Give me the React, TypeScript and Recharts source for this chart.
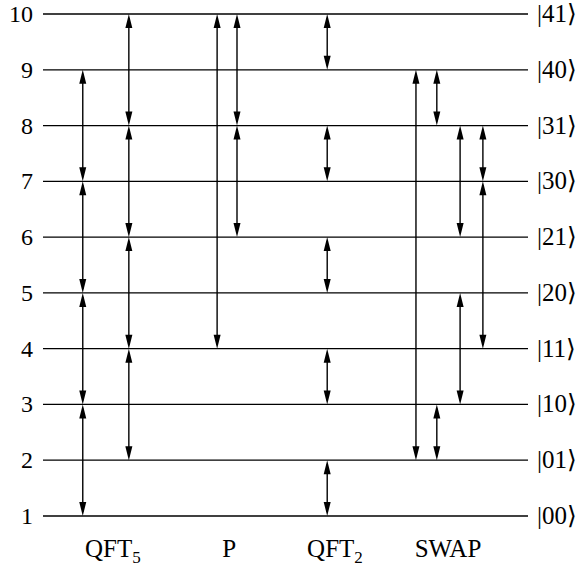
import {
  ComposedChart,
  XAxis,
  YAxis,
  CartesianGrid,
  ReferenceLine,
  Scatter,
} from "recharts";

const levels = [1, 2, 3, 4, 5, 6, 7, 8, 9, 10];
const kets = ["|00⟩", "|01⟩", "|10⟩", "|11⟩", "|20⟩", "|21⟩", "|30⟩", "|31⟩", "|40⟩", "|41⟩"];

// gate labels: name + subscript, and their position along the x axis (0..100)
const gateNames = ["QFT", "P", "QFT", "SWAP"];
const gateSubs = ["5", "", "2", ""];
const gatePos = [14.4, 38.4, 60.2, 83.5];

// transitions drawn as double-headed arrows: column x, from level, to level
const arrowX = [
  8.2, 8.2, 8.2, 8.2,
  17.7, 17.7, 17.7, 17.7,
  35.9,
  40.0, 40.0,
  58.6, 58.6, 58.6, 58.6, 58.6,
  76.9,
  81.2, 81.2,
  86.0, 86.0,
  90.7, 90.7,
];
const arrowFrom = [
  1, 3, 5, 7,
  2, 4, 6, 8,
  4,
  6, 8,
  1, 3, 5, 7, 9,
  2,
  2, 8,
  3, 6,
  4, 7,
];
const arrowTo = [
  3, 5, 7, 9,
  4, 6, 8, 10,
  10,
  8, 10,
  2, 4, 6, 8, 10,
  9,
  3, 9,
  5, 8,
  7, 8,
];

const FONT = "Liberation Serif";
const HEAD = 14;
const HALF = 3.5;

// anchor points so the axes have something to lay out
const points = arrowX.map((x, i) => ({ x, y: arrowFrom[i] }));

function ArrowShape(props: any) {
  const { x1, y1, y2 } = props;
  const top = Math.min(y1, y2);
  const bot = Math.max(y1, y2);
  const x = x1;
  return (
    <g>
      <line x1={x} y1={top + 4} x2={x} y2={bot - 4} stroke="#000" strokeWidth={1.4} />
      <path d={`M${x},${top} L${x - HALF},${top + HEAD} L${x + HALF},${top + HEAD} Z`} fill="#000" />
      <path d={`M${x},${bot} L${x - HALF},${bot - HEAD} L${x + HALF},${bot - HEAD} Z`} fill="#000" />
    </g>
  );
}

function GateTick(props: any) {
  const { x, y, payload } = props;
  const i = gatePos.indexOf(payload.value);
  return (
    <text x={x} y={y + 41} textAnchor="middle" fontFamily={FONT} fontSize={25} fill="#000">
      {gateNames[i]}
      {gateSubs[i] && (
        <tspan fontSize={17} dy={6}>
          {gateSubs[i]}
        </tspan>
      )}
    </text>
  );
}

function LevelTick(props: any) {
  const { x, y, payload } = props;
  return (
    <text x={x} y={y} dy={8} textAnchor="end" fontFamily={FONT} fontSize={24} fill="#000">
      {payload.value}
    </text>
  );
}

function KetTick(props: any) {
  const { x, y, payload } = props;
  return (
    <text x={x} y={y} dy={8} textAnchor="start" fontFamily={FONT} fontSize={25} fill="#000">
      {kets[payload.value - 1]}
    </text>
  );
}

export default function App() {
  return (
    <div style={{ position: "absolute", left: 0, top: 0, background: "#fff", fontFamily: FONT }}>
      <ComposedChart
        width={583}
        height={568}
        data={points}
        margin={{ top: 14, right: 0, left: 0, bottom: 0 }}
        style={{ fontFamily: FONT }}
      >
        <CartesianGrid
          yAxisId="l"
          vertical={false}
          stroke="#000"
          strokeWidth={1.3}
        />
        <XAxis
          type="number"
          dataKey="x"
          domain={[0, 100]}
          ticks={gatePos}
          interval={0}
          axisLine={false}
          tickLine={false}
          tickSize={0}
          tickMargin={0}
          height={52}
          tick={<GateTick />}
        />
        <YAxis
          yAxisId="l"
          type="number"
          dataKey="y"
          domain={[1, 10]}
          ticks={levels}
          interval={0}
          width={43}
          axisLine={false}
          tickLine={false}
          tickSize={0}
          tickMargin={10}
          tick={<LevelTick />}
        />
        <YAxis
          yAxisId="r"
          orientation="right"
          type="number"
          dataKey="y"
          domain={[1, 10]}
          ticks={levels}
          interval={0}
          width={55}
          axisLine={false}
          tickLine={false}
          tickSize={0}
          tickMargin={9}
          tick={<KetTick />}
        />
        <Scatter yAxisId="l" dataKey="y" data={points} shape={() => <g />} isAnimationActive={false} />
        <Scatter yAxisId="r" dataKey="y" data={points} shape={() => <g />} isAnimationActive={false} />
        {arrowX.map((x, i) => (
          <ReferenceLine
            key={i}
            yAxisId="l"
            segment={[
              { x, y: arrowFrom[i] },
              { x, y: arrowTo[i] },
            ]}
            ifOverflow="visible"
            shape={ArrowShape}
          />
        ))}
      </ComposedChart>
    </div>
  );
}
